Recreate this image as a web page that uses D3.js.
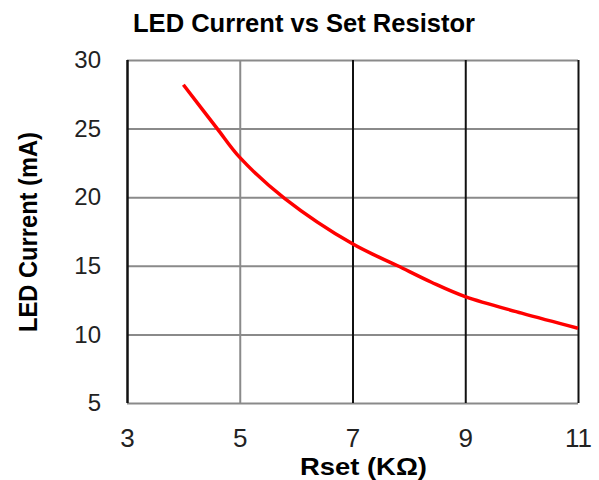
<!DOCTYPE html>
<html>
<head>
<meta charset="utf-8">
<script src="https://cdn.jsdelivr.net/npm/d3@7"></script>
<style>
  body { margin: 0; background: #fff; }
  text { font-family: "Liberation Sans", Arial, sans-serif; }
</style>
</head>
<body>
<div id="chart"></div>
<script>
// values
const rset = [4.0, 4.6, 5.0, 5.8, 7.0, 7.8, 8.4, 9.0, 10.0, 11.0];
const ledCurrent = [28.2, 25.0, 22.9, 19.9, 16.6, 15.0, 13.8, 12.75, 11.55, 10.45];
const xTicks = [3, 5, 7, 9, 11];
const yTicks = [5, 10, 15, 20, 25, 30];
const darkX = [3, 7, 9, 11];

const svgWidth = 599;
const svgHeight = 480;

const margin = { top: 60, right: 21, bottom: 77, left: 127 };
const chartWidth = svgWidth - margin.left - margin.right;
const chartHeight = svgHeight - margin.top - margin.bottom;

var svg = d3.select("#chart")
    .append("svg")
    .attr("width", svgWidth)
    .attr("height", svgHeight);

var chartGroup = svg.append("g")
    .attr("transform", `translate(${margin.left}, ${margin.top})`);

var x = d3.scaleLinear().domain([3, 11]).range([0, chartWidth]);
var y = d3.scaleLinear().domain([5, 30]).range([chartHeight, 0]);

// horizontal grid
var yGrid = chartGroup.append("g")
    .call(d3.axisLeft(y).tickValues(yTicks).tickSize(-chartWidth).tickFormat(""));
yGrid.select(".domain").remove();
yGrid.selectAll("line").attr("stroke", "#8a8a8a").attr("stroke-width", 2);

// vertical grid (x = 3 is the left axis)
var xGrid = chartGroup.append("g")
    .attr("transform", `translate(0, ${chartHeight})`)
    .call(d3.axisBottom(x).tickValues(xTicks).tickSize(-chartHeight).tickFormat(""));
xGrid.select(".domain").remove();
xGrid.selectAll("line")
    .attr("stroke", d => darkX.includes(d) ? "#111" : "#8a8a8a")
    .attr("stroke-width", d => d === 3 ? 2.5 : 2);

// tick labels
var yAxis = chartGroup.append("g")
    .call(d3.axisLeft(y).tickValues(yTicks).tickSize(0).tickPadding(26));
yAxis.select(".domain").remove();
yAxis.selectAll("text")
    .attr("font-size", 24)
    .attr("fill", "#222")
    .style("font-family", "'Liberation Sans', Arial, sans-serif");

var xAxis = chartGroup.append("g")
    .attr("transform", `translate(0, ${chartHeight})`)
    .call(d3.axisBottom(x).tickValues(xTicks).tickSize(0).tickPadding(26));
xAxis.select(".domain").remove();
xAxis.selectAll("text")
    .attr("font-size", 26)
    .attr("fill", "#222")
    .style("font-family", "'Liberation Sans', Arial, sans-serif");

// curve
var line = d3.line()
    .x((d, i) => x(rset[i]))
    .y(d => y(d))
    .curve(d3.curveCatmullRom.alpha(0.5));

chartGroup.append("path")
    .datum(ledCurrent)
    .attr("d", line)
    .attr("fill", "none")
    .attr("stroke", "#ff0000")
    .attr("stroke-width", 3.5);

// titles
svg.append("text")
    .attr("x", 304)
    .attr("y", 32)
    .attr("text-anchor", "middle")
    .attr("font-size", 25)
    .attr("font-weight", "bold")
    .attr("textLength", 342)
    .attr("lengthAdjust", "spacingAndGlyphs")
    .text("LED Current vs Set Resistor");

svg.append("text")
    .attr("x", 363.5)
    .attr("y", 475)
    .attr("text-anchor", "middle")
    .attr("font-size", 24)
    .attr("font-weight", "bold")
    .attr("textLength", 127)
    .attr("lengthAdjust", "spacingAndGlyphs")
    .text("Rset (KΩ)");

svg.append("text")
    .attr("transform", "translate(37, 232) rotate(-90)")
    .attr("text-anchor", "middle")
    .attr("font-size", 25)
    .attr("font-weight", "bold")
    .attr("textLength", 200)
    .attr("lengthAdjust", "spacingAndGlyphs")
    .text("LED Current (mA)");
</script>
</body>
</html>
